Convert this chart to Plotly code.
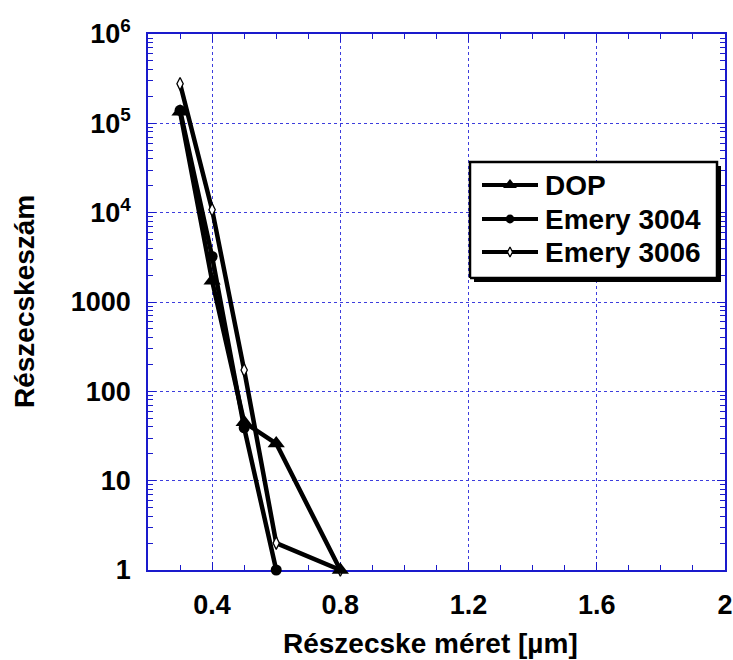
import plotly.graph_objects as go

# Particle size classes [µm]
size_dop = [0.3, 0.4, 0.5, 0.6, 0.8]
count_dop = [1.35e5, 1730, 45, 26, 1]

size_3004 = [0.3, 0.4, 0.5, 0.6]
count_3004 = [1.4e5, 3230, 39, 1]

size_3006 = [0.3, 0.4, 0.5, 0.6, 0.8]
count_3006 = [2.77e5, 1.08e4, 173, 2, 1]

series_names = ["DOP", "Emery 3004", "Emery 3006"]

y_tickvals = [1, 10, 100, 1000, 1e4, 1e5, 1e6]
y_ticktext = ["1", "10", "100", "1000", "10<sup>4</sup>", "10<sup>5</sup>", "10<sup>6</sup>"]
x_tickvals = [0.4, 0.8, 1.2, 1.6, 2.0]
x_ticktext = ["0.4", "0.8", "1.2", "1.6", "2"]

# Page / plot-area geometry in pixels
W, H = 733, 660
L, R, T, B = 148, 725, 34, 570
PW, PH = R - L, B - T


def px(xp):
    return (xp - L) / PW


def py(yp):
    return (B - yp) / PH


FONT = "Liberation Sans, Arial, sans-serif"
AXIS_BLUE = "#1a1acc"
GRID_BLUE = "#3d3ddd"

styles = [
    dict(symbol="triangle-up", size=15, color="black", line=dict(width=0)),
    dict(symbol="circle", size=11, color="black", line=dict(width=0)),
    dict(symbol="diamond-tall", size=9, color="white", line=dict(width=1.3, color="black")),
]

series = list(zip(
    [size_dop, size_3004, size_3006],
    [count_dop, count_3004, count_3006],
    series_names,
    styles,
))

fig = go.Figure()
# Draw last series first so the DOP markers end up on top
for xs, ys, name, mk in reversed(series):
    fig.add_trace(go.Scatter(
        x=xs, y=ys, name=name, mode="lines+markers",
        line=dict(color="black", width=4.5),
        marker=mk, cliponaxis=False, showlegend=False,
    ))

# Legend panel drawn on an overlay axis spanning the plot area (0..1 both ways)
box_x0, box_x1, box_y0, box_y1 = px(470), px(717), py(278), py(162)
sdx, sdy = 4 / PW, 4 / PH


def rect_path(x0, x1, y0, y1):
    return [x0, x1, x1, x0, x0], [y0, y0, y1, y1, y0]


sx, sy = rect_path(box_x0 + sdx, box_x1 + sdx, box_y0 - sdy, box_y1 - sdy)
fig.add_trace(go.Scatter(x=sx, y=sy, xaxis="x2", yaxis="y2", mode="lines",
                         fill="toself", fillcolor="black", line=dict(width=0, color="black"),
                         showlegend=False, hoverinfo="skip"))
bx, by = rect_path(box_x0, box_x1, box_y0, box_y1)
fig.add_trace(go.Scatter(x=bx, y=by, xaxis="x2", yaxis="y2", mode="lines",
                         fill="toself", fillcolor="white", line=dict(width=2.5, color="black"),
                         showlegend=False, hoverinfo="skip"))

row_y = [185, 219, 252]
for (_, _, name, mk), ry in zip(series, row_y):
    fig.add_trace(go.Scatter(
        x=[px(482), px(510), px(538)], y=[py(ry)] * 3,
        xaxis="x2", yaxis="y2", mode="lines",
        line=dict(color="black", width=4), showlegend=False, hoverinfo="skip",
    ))
    fig.add_trace(go.Scatter(
        x=[px(510)], y=[py(ry)], xaxis="x2", yaxis="y2", mode="markers",
        marker=dict(mk, size=mk["size"] * 0.8), showlegend=False, hoverinfo="skip",
    ))
    fig.add_annotation(x=px(543), y=py(ry), xref="x2", yref="y2", text=name,
                       showarrow=False, xanchor="left", yanchor="middle",
                       font=dict(family=FONT, size=28, color="black", weight="bold"))

# Axis titles
fig.add_annotation(x=px(430), y=py(643), xref="paper", yref="paper",
                   text="Részecske méret [µm]", showarrow=False,
                   xanchor="center", yanchor="middle",
                   font=dict(family=FONT, size=28, color="black", weight="bold"))
fig.add_annotation(x=px(24), y=0.5, xref="paper", yref="paper",
                   text="Részecskeszám", textangle=-90, showarrow=False,
                   xanchor="center", yanchor="middle",
                   font=dict(family=FONT, size=28, color="black", weight="bold"))

tick_font = dict(family=FONT, size=27, color="black", weight="bold")

fig.update_layout(
    width=W, height=H,
    margin=dict(l=L, r=W - R, t=T, b=H - B, autoexpand=False),
    paper_bgcolor="white", plot_bgcolor="white",
    showlegend=False,
    xaxis=dict(
        range=[0.2, 2.0], tickvals=x_tickvals, ticktext=x_ticktext,
        ticks="inside", ticklen=8, tickwidth=1, tickcolor=AXIS_BLUE,
        showline=True, linecolor=AXIS_BLUE, linewidth=1.5, mirror="allticks",
        showgrid=True, gridcolor=GRID_BLUE, griddash="dot", gridwidth=1,
        zeroline=False, tickfont=tick_font, ticklabelstandoff=10,
        layer="below traces", automargin=False,
        minor=dict(dtick=0.1, tick0=0.2, ticks="inside", ticklen=5,
                   tickcolor=AXIS_BLUE, showgrid=False),
    ),
    yaxis=dict(
        type="log", range=[0, 6], tickvals=y_tickvals, ticktext=y_ticktext,
        ticks="inside", ticklen=8, tickwidth=1, tickcolor=AXIS_BLUE,
        showline=True, linecolor=AXIS_BLUE, linewidth=1.5, mirror="allticks",
        showgrid=True, gridcolor=GRID_BLUE, griddash="dot", gridwidth=1,
        zeroline=False, tickfont=tick_font, ticklabelstandoff=10,
        layer="below traces", automargin=False,
        minor=dict(dtick="D1", ticks="inside", ticklen=5,
                   tickcolor=AXIS_BLUE, showgrid=False),
    ),
    xaxis2=dict(overlaying="x", range=[0, 1], visible=False, fixedrange=True,
                automargin=False),
    yaxis2=dict(overlaying="y", range=[0, 1], visible=False, fixedrange=True,
                automargin=False),
)

fig.write_html("out.html")
